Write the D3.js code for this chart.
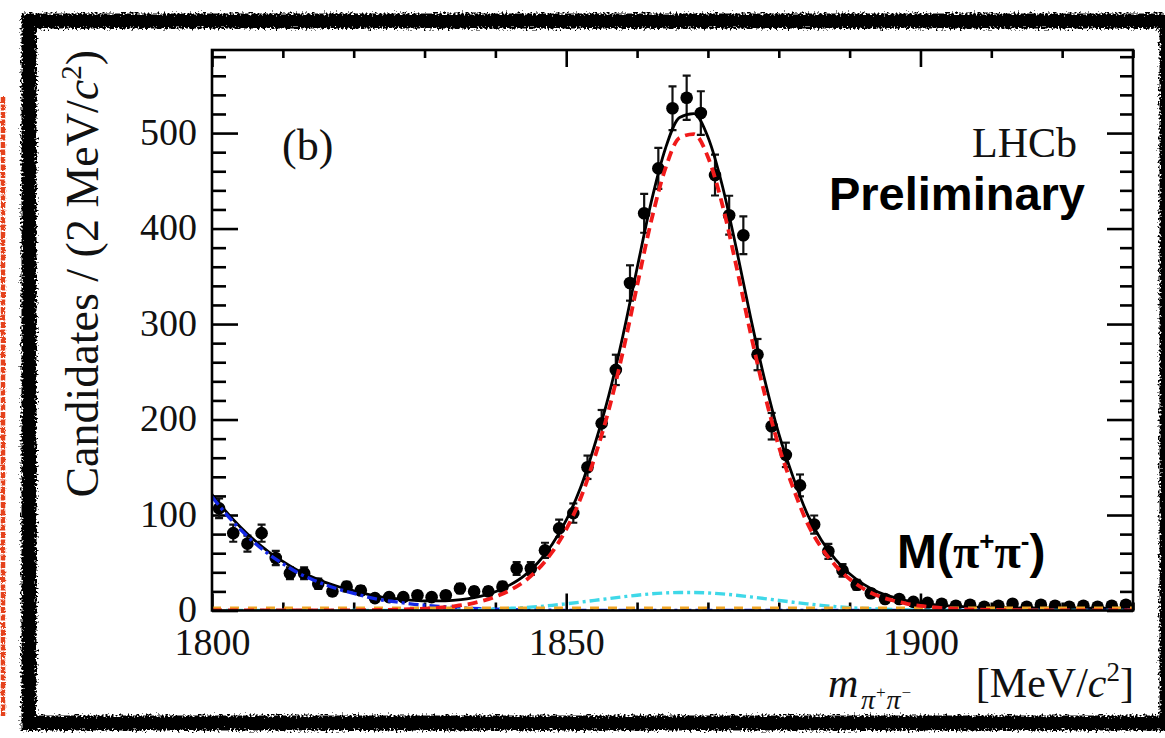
<!DOCTYPE html>
<html>
<head>
<meta charset="utf-8">
<script src="https://cdn.jsdelivr.net/npm/d3@7"></script>
<style>
  body { margin: 0; background: #fff; }
  svg { display: block; }
</style>
</head>
<body>
<svg id="chart" width="1165" height="738"></svg>
<script>
// ---- Data: D -> pi+ pi- invariant mass, 2 MeV/c^2 bins ----
const binCenters = [
  1801, 1803, 1805, 1807, 1809, 1811, 1813, 1815, 1817, 1819,
  1821, 1823, 1825, 1827, 1829, 1831, 1833, 1835, 1837, 1839,
  1841, 1843, 1845, 1847, 1849, 1851, 1853, 1855, 1857, 1859,
  1861, 1863, 1865, 1867, 1869, 1871, 1873, 1875, 1877, 1879,
  1881, 1883, 1885, 1887, 1889, 1891, 1893, 1895, 1897, 1899,
  1901, 1903, 1905, 1907, 1909, 1911, 1913, 1915, 1917, 1919,
  1921, 1923, 1925, 1927, 1929
];
const candidates = [
  107, 81, 70, 81, 55, 39, 39, 28, 20, 25,
  21, 13, 14, 14, 16, 14, 16, 23, 20, 20,
  25, 44, 44, 63, 86, 102, 150, 196, 252, 343,
  416, 463, 526, 537, 521, 456, 414, 393, 268, 193,
  163, 131, 90, 62, 42, 27, 18, 12, 12, 9,
  8, 7, 5, 6, 4, 5, 7, 4, 6, 5,
  4, 5, 4, 5, 6
];

// ---- Fit projections, sampled every 2 MeV/c^2 ----
const fitMass = [
  1800, 1802, 1804, 1806, 1808, 1810, 1812, 1814, 1816, 1818,
  1820, 1822, 1824, 1826, 1828, 1830, 1832, 1834, 1836, 1838,
  1840, 1842, 1844, 1846, 1848, 1850, 1852, 1854, 1856, 1858,
  1860, 1862, 1864, 1866, 1868, 1870, 1872, 1874, 1876, 1878,
  1880, 1882, 1884, 1886, 1888, 1890, 1892, 1894, 1896, 1898,
  1900, 1902, 1904, 1906, 1908, 1910, 1912, 1914, 1916, 1918,
  1920, 1922, 1924, 1926, 1928, 1930
];
const fitTotal = [
  121.5, 103.5, 87.5, 73.5, 61.5, 51.5, 42.5, 35.5, 29.5, 24.6,
  20.7, 16.9, 14.1, 12.4, 10.9, 10.1, 10.0, 10.6, 12.1, 15.1,
  19.7, 26.6, 36.1, 50.0, 69.1, 94.6, 128.2, 173.1, 225.0, 287.8,
  358.5, 427.9, 483.9, 516.4, 520.4, 495.9, 445.9, 379.5, 307.8, 242.0,
  185.1, 140.2, 101.5, 73.9, 53.6, 38.5, 27.3, 19.4, 14.2, 10.4,
  7.7, 6.0, 4.8, 4.0, 3.5, 3.1, 2.9, 2.75, 2.65, 2.6,
  2.55, 2.5, 2.5, 2.5, 2.5, 2.5
];
const fitSignal = [
  0, 0, 0, 0, 0, 0, 0, 0, 0, 0.1,
  0.2, 0.3, 0.5, 0.8, 1.3, 1.9, 2.9, 4.4, 6.4, 9.8,
  14.4, 21, 30, 43, 61, 85, 117, 160, 210, 271,
  340, 408, 463, 495, 499, 475, 426, 361, 291, 227,
  172, 129, 92, 66, 47, 33, 22.6, 15.4, 10.7, 7.2,
  4.8, 3.2, 2.1, 1.4, 0.9, 0.6, 0.4, 0.25, 0.15, 0.1,
  0.05, 0, 0, 0, 0, 0
];
const fitLowMass = [
  119, 101, 85, 71, 59, 49, 40, 33, 27, 22,
  18, 14, 11, 9, 7, 5.5, 4.3, 3.3, 2.5, 1.8,
  1.3, 0.9, 0.6, 0.4, 0.2, 0.1, 0, 0, 0, 0,
  0, 0, 0, 0, 0, 0, 0, 0, 0, 0,
  0, 0, 0, 0, 0, 0, 0, 0, 0, 0,
  0, 0, 0, 0, 0, 0, 0, 0, 0, 0,
  0, 0, 0, 0, 0, 0
];
const fitPeaking = [
  0, 0, 0, 0, 0, 0, 0, 0, 0, 0,
  0, 0.05, 0.1, 0.1, 0.15, 0.2, 0.3, 0.4, 0.7, 1.0,
  1.5, 2.2, 3.0, 4.1, 5.4, 7.0, 8.7, 10.6, 12.5, 14.3,
  16.0, 17.4, 18.4, 18.9, 18.9, 18.4, 17.4, 16.0, 14.3, 12.5,
  10.6, 8.7, 7.0, 5.4, 4.1, 3.0, 2.2, 1.5, 1.0, 0.7,
  0.4, 0.3, 0.2, 0.1, 0.1, 0.05, 0, 0, 0, 0,
  0, 0, 0, 0, 0, 0
];
const flatMass = [1800, 1930];
const fitFlat = [2.5, 2.5];

const xTickLabels = [1800, 1850, 1900];
const yTickLabels = [0, 100, 200, 300, 400, 500];

// ---- Layout ----
const W = 1165, H = 738;
const plot = { left: 212, right: 1133, top: 50, bottom: 610.5 };
const serif = "'Liberation Serif', 'Times New Roman', serif";
const sans = "'Liberation Sans', Arial, sans-serif";

const svg = d3.select("#chart");
svg.append("rect").attr("width", W).attr("height", H).attr("fill", "#fff");

const defs = svg.append("defs");
function roughFilter(id, freq, scale, seed) {
  const f = defs.append("filter").attr("id", id)
    .attr("filterUnits", "userSpaceOnUse")
    .attr("x", 0).attr("y", 0).attr("width", W).attr("height", H);
  f.append("feTurbulence").attr("type", "fractalNoise").attr("baseFrequency", freq)
    .attr("numOctaves", 2).attr("seed", seed).attr("result", "noise");
  f.append("feDisplacementMap").attr("in", "SourceGraphic").attr("in2", "noise")
    .attr("scale", scale).attr("xChannelSelector", "R").attr("yChannelSelector", "G");
}
roughFilter("rough", 0.5, 10, 7);
roughFilter("grain", 0.6, 3, 3);

defs.append("clipPath").attr("id", "plotClip")
  .append("rect").attr("x", plot.left).attr("y", plot.top)
  .attr("width", plot.right - plot.left).attr("height", plot.bottom - plot.top);

// Rough black frame around the figure and red margin mark
svg.append("rect")
  .attr("x", 29).attr("y", 21).attr("width", 1138).attr("height", 702)
  .attr("fill", "none").attr("stroke", "#000").attr("stroke-width", 15)
  .attr("filter", "url(#rough)");
svg.append("line")
  .attr("x1", 3).attr("x2", 3).attr("y1", 97).attr("y2", 716)
  .attr("stroke", "#e5431f").attr("stroke-width", 4.5)
  .attr("stroke-dasharray", "6 1.5").attr("filter", "url(#grain)");

const x = d3.scaleLinear().domain([1800, 1930]).range([plot.left, plot.right]);
const y = d3.scaleLinear().domain([0, 587]).range([plot.bottom, plot.top]);

// ---- Inward ticks on all four sides ----
const yMajor = d3.range(0, 587, 100);
const yMinor = d3.range(0, 587, 20).filter(v => v % 100 !== 0);
const xMajor = d3.range(1800, 1931, 50);
const xMinor = d3.range(1800, 1931, 10).filter(v => v % 50 !== 0);

function tickRow(axis, values, size, tx, ty) {
  const g = svg.append("g").attr("transform", `translate(${tx},${ty})`)
    .call(axis.tickValues(values).tickSize(size).tickFormat(""));
  g.select(".domain").remove();
  g.selectAll(".tick line").attr("stroke", "#000").attr("stroke-width", 2.6);
}
tickRow(d3.axisRight(y), yMajor, 26, plot.left, 0);
tickRow(d3.axisRight(y), yMinor, 14, plot.left, 0);
tickRow(d3.axisLeft(y), yMajor, 26, plot.right, 0);
tickRow(d3.axisLeft(y), yMinor, 13, plot.right, 0);
tickRow(d3.axisTop(x), xMajor, 17, 0, plot.bottom);
tickRow(d3.axisTop(x), xMinor, 8, 0, plot.bottom);
tickRow(d3.axisBottom(x), xMajor, 17, 0, plot.top);
tickRow(d3.axisBottom(x), xMinor, 8, 0, plot.top);

// ---- Tick labels ----
const yLab = svg.append("g").attr("transform", `translate(${plot.left},0)`)
  .call(d3.axisLeft(y).tickValues(yTickLabels).tickSize(0).tickPadding(15).tickFormat(d3.format("d")));
yLab.select(".domain").remove();
yLab.selectAll("text").attr("font-family", serif).attr("font-size", 38)
  .attr("fill", "#111").attr("dy", "0.3em");

const xLab = svg.append("g").attr("transform", `translate(0,${plot.bottom})`)
  .call(d3.axisBottom(x).tickValues(xTickLabels).tickSize(0).tickPadding(18).tickFormat(d3.format("d")));
xLab.select(".domain").remove();
xLab.selectAll("text").attr("font-family", serif).attr("font-size", 38).attr("fill", "#111");

// ---- Data points with Poisson errors ----
const pts = svg.append("g").attr("clip-path", "url(#plotClip)");
const data = d3.zip(binCenters, candidates);
const hi = d => y(d[1] + Math.sqrt(d[1]));
const lo = d => y(Math.max(0, d[1] - Math.sqrt(d[1])));
pts.selectAll("line.err").data(data).join("line").attr("class", "err")
  .attr("x1", d => x(d[0])).attr("x2", d => x(d[0]))
  .attr("y1", hi).attr("y2", lo)
  .attr("stroke", "#111").attr("stroke-width", 2.2);
pts.selectAll("line.capHi").data(data).join("line").attr("class", "capHi")
  .attr("x1", d => x(d[0]) - 4).attr("x2", d => x(d[0]) + 4)
  .attr("y1", hi).attr("y2", hi)
  .attr("stroke", "#111").attr("stroke-width", 2.2);
pts.selectAll("line.capLo").data(data).join("line").attr("class", "capLo")
  .attr("x1", d => x(d[0]) - 4).attr("x2", d => x(d[0]) + 4)
  .attr("y1", lo).attr("y2", lo)
  .attr("stroke", "#111").attr("stroke-width", 2.2);
pts.selectAll("circle").data(data).join("circle")
  .attr("cx", d => x(d[0])).attr("cy", d => y(d[1])).attr("r", 6.3).attr("fill", "#000");

// ---- Fit curves ----
const curves = svg.append("g").attr("clip-path", "url(#plotClip)").attr("fill", "none");
const line = d3.line().x(d => x(d[0])).y(d => y(d[1])).curve(d3.curveMonotoneX);
curves.append("path").attr("d", line(d3.zip(fitMass, fitTotal)))
  .attr("stroke", "#000").attr("stroke-width", 2.8);
curves.append("path").attr("d", line(d3.zip(fitMass, fitLowMass)))
  .attr("stroke", "#1428e6").attr("stroke-width", 3.4).attr("stroke-dasharray", "10 4 3 4");
curves.append("path").attr("d", line(d3.zip(fitMass, fitPeaking)))
  .attr("stroke", "#3fd8e8").attr("stroke-width", 3.4).attr("stroke-dasharray", "10 4 3 4");
curves.append("path").attr("d", line(d3.zip(flatMass, fitFlat)))
  .attr("stroke", "#f0a526").attr("stroke-width", 3).attr("stroke-dasharray", "9 9");
curves.append("path").attr("d", line(d3.zip(fitMass, fitSignal)))
  .attr("stroke", "#f01a1a").attr("stroke-width", 3.8).attr("stroke-dasharray", "10 6");

// ---- Frame of the plot ----
svg.append("rect").attr("x", plot.left).attr("y", plot.top)
  .attr("width", plot.right - plot.left).attr("height", plot.bottom - plot.top)
  .attr("fill", "none").attr("stroke", "#000").attr("stroke-width", 2.6);

// ---- Axis titles ----
const yTitle = svg.append("text")
  .attr("transform", "translate(98,50) rotate(-90)")
  .attr("text-anchor", "end").attr("font-family", serif).attr("font-size", 46).attr("fill", "#111");
yTitle.append("tspan").text("Candidates / (2 MeV/");
yTitle.append("tspan").attr("font-style", "italic").text("c");
yTitle.append("tspan").attr("font-size", 29).attr("dy", -17).text("2");
yTitle.append("tspan").attr("dy", 17).text(")");

svg.append("text").attr("x", 828).attr("y", 697)
  .attr("font-family", serif).attr("font-style", "italic").attr("font-size", 42).attr("fill", "#111")
  .text("m");
const sub = svg.append("text").attr("x", 861).attr("y", 709)
  .attr("font-family", serif).attr("font-style", "italic").attr("font-size", 28).attr("fill", "#111");
sub.append("tspan").text("π");
sub.append("tspan").attr("font-size", 17).attr("dy", -11).text("+");
sub.append("tspan").attr("dy", 11).text("π");
sub.append("tspan").attr("font-size", 17).attr("dy", -11).text("−");

const unit = svg.append("text").attr("x", 1134).attr("y", 697).attr("text-anchor", "end")
  .attr("font-family", serif).attr("font-size", 42).attr("fill", "#111");
unit.append("tspan").text("[MeV/");
unit.append("tspan").attr("font-style", "italic").text("c");
unit.append("tspan").attr("font-size", 27).attr("dy", -16).text("2");
unit.append("tspan").attr("dy", 16).text("]");

// ---- Annotations ----
svg.append("text").attr("x", 282).attr("y", 160)
  .attr("font-family", serif).attr("font-size", 44).attr("fill", "#111").text("(b)");
svg.append("text").attr("x", 1077).attr("y", 157).attr("text-anchor", "end")
  .attr("font-family", serif).attr("font-size", 42).attr("fill", "#111").text("LHCb");
svg.append("text").attr("x", 1085).attr("y", 210).attr("text-anchor", "end")
  .attr("font-family", sans).attr("font-weight", "bold").attr("font-size", 47).attr("fill", "#000")
  .text("Preliminary");

const mode = svg.append("text").attr("x", 897).attr("y", 568)
  .attr("font-family", sans).attr("font-weight", "bold").attr("font-size", 48).attr("fill", "#000");
mode.append("tspan").text("M(");
mode.append("tspan").attr("font-family", serif).text("π");
mode.append("tspan").attr("font-size", 26).attr("dy", -18).text("+");
mode.append("tspan").attr("font-family", serif).attr("dy", 18).text("π");
mode.append("tspan").attr("font-size", 26).attr("dy", -18).text("-");
mode.append("tspan").attr("dy", 18).text(")");
</script>
</body>
</html>
